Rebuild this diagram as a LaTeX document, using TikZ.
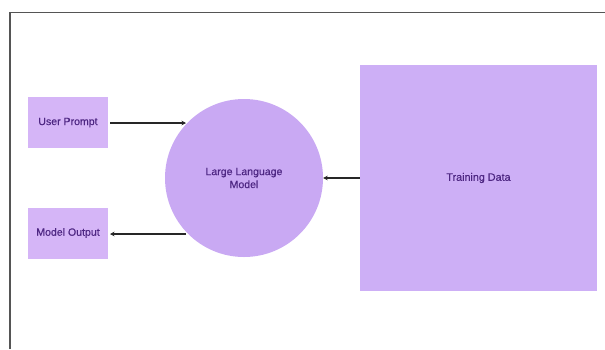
\documentclass[tikz,border=0pt]{standalone}
\usepackage{fontspec}
\setmainfont{Liberation Sans}[FakeBold=0.5]
\usetikzlibrary{arrows.meta}
\definecolor{boxfill}{HTML}{D5B5F7}
\definecolor{circfill}{HTML}{C9A9F3}
\definecolor{datafill}{HTML}{CDAFF6}
\definecolor{txt}{HTML}{4E2783}
\definecolor{frame}{HTML}{555555}
\tikzset{
  smallbox/.style={rectangle, fill=boxfill, minimum width=80bp, minimum height=51bp, inner sep=0pt, text=txt, font=\fontsize{10.6}{12}\selectfont},
  llm/.style={circle, fill=circfill, minimum size=158bp, inner sep=0pt, text=txt, align=center, font=\fontsize{10.6}{13}\selectfont},
  databox/.style={rectangle, fill=datafill, minimum width=237bp, minimum height=226bp, inner sep=0pt, text=txt, font=\fontsize{10.8}{12}\selectfont},
  conn/.style={draw=black!85, line width=1.2pt, -{Stealth[length=4.5pt,width=4.5pt]}}
}
\begin{document}
\begin{tikzpicture}[x=1bp,y=-1bp]
\useasboundingbox (0,0) rectangle (605,349);
\draw[frame, line width=1.3pt] (10,349) -- (10,12.5) -- (605,12.5);
\node[smallbox] (up) at (68,122.5) {User Prompt};
\node[smallbox] (mo) at (68,233) {Model Output};
\node[llm] (llm) at (244,178) {Large Language\\Model};
\node[databox] (td) at (478.5,178) {Training Data};
\coordinate (a1) at (110,123);
\coordinate (a2) at (186,123);
\coordinate (b1) at (110,234);
\coordinate (b2) at (186,234);
\draw[conn] (a1) -- (a2);
\draw[conn] (b2) -- (b1);
\draw[conn] (td.west) -- (llm.east);
\end{tikzpicture}
\end{document}
